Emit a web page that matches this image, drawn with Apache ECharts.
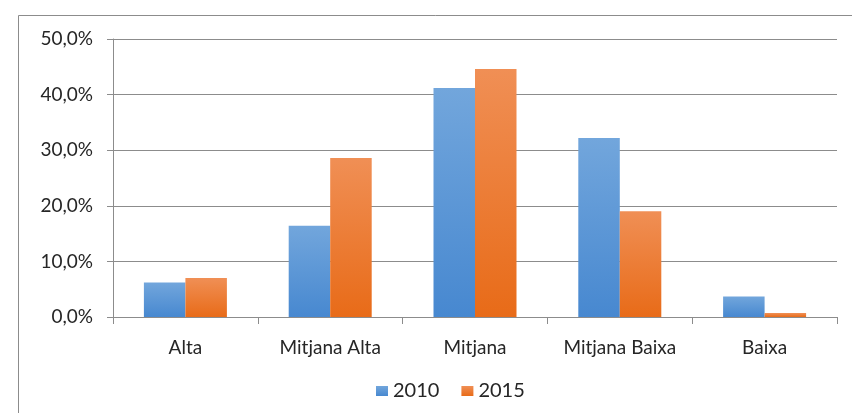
<!DOCTYPE html>
<html><head><meta charset="utf-8">
<script src="https://cdn.jsdelivr.net/npm/echarts@6/dist/echarts.min.js"></script>
<style>html,body{margin:0;padding:0;background:#fff}#c{width:852px;height:413px}</style>
</head><body><div id="c"></div>
<script>
const categories = ['Alta', 'Mitjana Alta', 'Mitjana', 'Mitjana Baixa', 'Baixa'];
const seriesNames = ['2010', '2015'];
const values2010 = [6.2, 16.4, 41.2, 32.2, 3.7];
const values2015 = [7.0, 28.6, 44.6, 19.0, 0.7];
const yTicks = [0, 10, 20, 30, 40, 50];

const chart = echarts.init(document.getElementById('c'), null, {renderer: 'canvas'});
const font = 'Lato';
const blueGrad = new echarts.graphic.LinearGradient(0, 0, 0, 1, [{offset: 0, color: '#72a6dc'}, {offset: 1, color: '#4788d0'}]);
const orangeGrad = new echarts.graphic.LinearGradient(0, 0, 0, 1, [{offset: 0, color: '#f08f55'}, {offset: 1, color: '#e86b18'}]);
chart.setOption({
  animation: false,
  backgroundColor: '#fff',
  graphic: [{type: 'rect', shape: {x: 18.5, y: 15.5, width: 900, height: 500}, style: {fill: 'none', stroke: '#8c8c8c', lineWidth: 1}, silent: true}],
  grid: {left: 113, right: 15, top: 39, bottom: 96, containLabel: false},
  legend: {
    data: seriesNames, bottom: 7, left: 371, itemWidth: 12, itemHeight: 10, itemGap: 22,
    icon: 'rect',
    textStyle: {fontFamily: font, fontSize: 20, color: '#262626'}
  },
  xAxis: {
    type: 'category', data: categories, boundaryGap: true,
    axisLine: {lineStyle: {color: '#8c8c8c'}},
    axisTick: {show: true, length: 7, alignWithLabel: false, lineStyle: {color: '#8c8c8c'}},
    axisLabel: {interval: 0, fontFamily: font, fontSize: 19, color: '#262626', margin: 21}
  },
  yAxis: {
    type: 'value', min: yTicks[0], max: yTicks[yTicks.length - 1], interval: 10,
    axisLine: {show: true, lineStyle: {color: '#8c8c8c'}},
    axisTick: {show: true, length: 6, lineStyle: {color: '#8c8c8c'}},
    splitLine: {lineStyle: {color: '#8c8c8c'}},
    axisLabel: {fontFamily: font, fontSize: 19, color: '#262626', margin: 20,
      formatter: v => v.toFixed(1).replace('.', ',') + '%'}
  },
  series: [
    {name: seriesNames[0], type: 'bar', data: values2010, barWidth: 41.5, barGap: '0%', itemStyle: {color: blueGrad}},
    {name: seriesNames[1], type: 'bar', data: values2015, barWidth: 41.5, barGap: '0%', itemStyle: {color: orangeGrad}}
  ]
});
</script></body></html>
